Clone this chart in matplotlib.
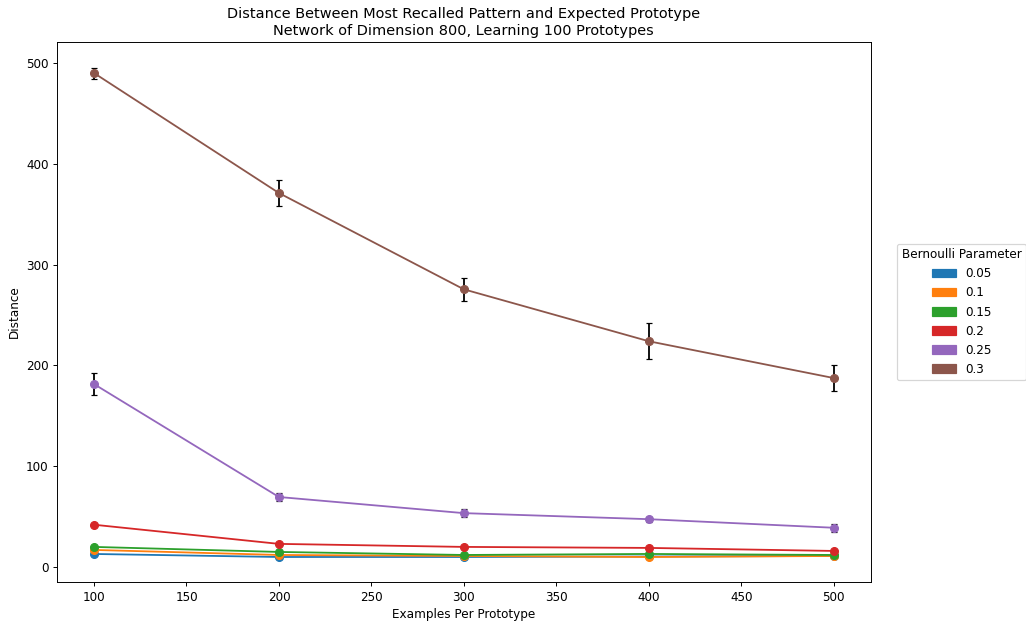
import matplotlib
matplotlib.use('Agg')
import matplotlib.pyplot as plt
import matplotlib.patches as mpatches

# Datos
ejemplos = [100, 200, 300, 400, 500]
parametros = ['0.05', '0.1', '0.15', '0.2', '0.25', '0.3']
colores = ['#1f77b4', '#ff7f0e', '#2ca02c', '#d62728', '#9467bd', '#8c564b']

dist_005 = [13, 10, 10, 10.5, 11]
dist_01 = [17, 12, 11, 10, 11]
dist_015 = [20, 15, 12, 13, 12]
dist_02 = [42, 23, 20, 19, 16]
dist_025 = [181.5, 69.5, 53.5, 47.5, 39]
dist_03 = [490, 371, 275.5, 224, 187.5]

err_005 = [1, 0.5, 0.5, 0.5, 0.5]
err_01 = [1, 0.5, 0.5, 0.5, 0.5]
err_015 = [1, 0.5, 0.5, 0.5, 0.5]
err_02 = [1.5, 1, 1, 1, 1]
err_025 = [11, 3.5, 4, 2.5, 4]
err_03 = [5.5, 12.5, 11.5, 18, 12.5]

distancias = [dist_005, dist_01, dist_015, dist_02, dist_025, dist_03]
errores = [err_005, err_01, err_015, err_02, err_025, err_03]

# La imagen original esta reducida, por eso dpi bajo
dpi = 86.67
fig = plt.figure(figsize=(1026 / dpi, 624 / dpi), dpi=dpi)
ax = fig.add_axes([0.0556, 0.067, 0.793, 0.866])

for dist, err, color in zip(distancias, errores, colores):
    ax.errorbar(ejemplos, dist, yerr=err, fmt='none', ecolor='black', capsize=2.2, elinewidth=1.5, zorder=2)
    ax.plot(ejemplos, dist, '-o', color=color, markersize=6.5, linewidth=1.5, zorder=3)

ax.set_xlim(80, 520)
ax.set_ylim(-15, 521)
ax.set_xlabel('Examples Per Prototype')
ax.set_ylabel('Distance')
ax.set_title('Distance Between Most Recalled Pattern and Expected Prototype\n'
             'Network of Dimension 800, Learning 100 Prototypes')

parches = [mpatches.Patch(color=c, label=p) for c, p in zip(colores, parametros)]
ax.legend(handles=parches, title='Bernoulli Parameter', loc='center left',
          bbox_to_anchor=(1.025, 0.5))

fig.savefig('out.png', dpi=dpi)
